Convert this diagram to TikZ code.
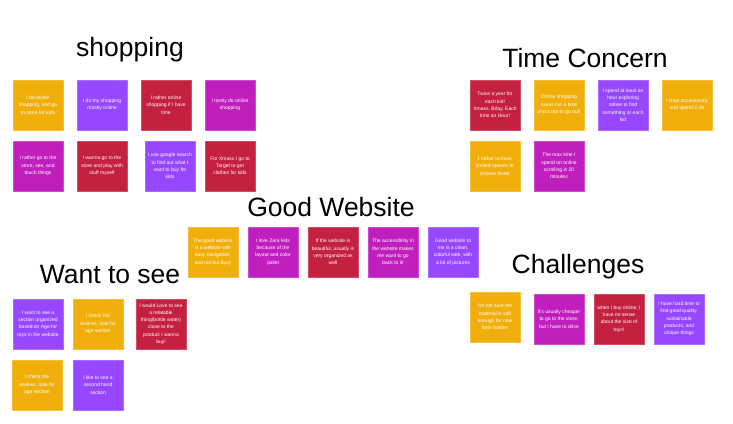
\documentclass[tikz,border=0pt]{standalone}
\usepackage{fontspec}
\setmainfont{Liberation Sans}
\definecolor{cyel}{HTML}{F1AF0C}
\definecolor{cvio}{HTML}{9747FF}
\definecolor{cred}{HTML}{C4203F}
\definecolor{cmag}{HTML}{C01FBE}
\tikzset{
  note/.style={minimum width=50pt, minimum height=50pt, inner sep=0pt, align=center,
    text=white, font=\fontsize{5pt}{7.3pt}\selectfont, draw=#1!80!white, line width=0.6pt, fill=#1},
  title/.style={font=\fontsize{26.5pt}{30pt}\selectfont, text=black, inner sep=0pt}
}
\begin{document}
\begin{tikzpicture}[x=1pt,y=-1pt]
\useasboundingbox[fill=white] (0,0) rectangle (733,423);
% titles
\node[title] (tshop) at (130,50) {shopping};
\node[title] (ttime) at (585,58) {Time Concern};
\node[title] (tgood) at (331,207) {Good Website};
\node[title] (twant) at (110,275) {Want to see};
\node[title] (tchal) at (578,267) {Challenges};
% shopping
\node[note=cyel] (s1) at (38,105) {I do  online\\shopping, and go\\to store for kids};
\node[note=cvio] (s2) at (102,105) {I do my  shopping\\mostly  online};
\node[note=cred] (s3) at (166,105) {I rather online\\shopping if I have\\time};
\node[note=cmag] (s4) at (230,105) {I rarely do online\\shopping};
\node[note=cmag] (s5) at (38,166) {I rather go to the\\store, see, and\\touch things};
\node[note=cred] (s6) at (102,166) {I wanna go to the\\store and play with\\stuff myself};
\node[note=cvio] (s7) at (170,166) {I use google search\\to find out what I\\want to buy for\\kids};
\node[note=cred] (s8) at (230,166) {For Xmass I go to\\Target to get\\clothes for kids};
% time concern
\node[note=cred] (c1) at (495,105) {Twice a year for\\each kid!\\Xmass, Bday, Each\\time an Hour!};
\node[note=cyel] (c2) at (559,105) {Online shopping\\saves me a time\\and a trip to go out!};
\node[note=cvio] (c3) at (623,105) {I spend at least an\\hour exploring\\online to find\\something or each\\kid};
\node[note=cyel] (c4) at (687,105) {I shop occasionally\\and spend 2-3h};
\node[note=cyel] (c5) at (495,166) {I rather to have\\limited options to\\choose faster};
\node[note=cmag] (c6) at (559,166) {The max time I\\spend on online\\scrolling is 20\\minutes};
% good website
\node[note=cyel] (g1) at (213,252) {The good website\\is a website with\\easy navigation,\\and not too busy};
\node[note=cmag] (g2) at (273,252) {I love Zara kids\\because of the\\layout and color\\pallet};
\node[note=cred] (g3) at (333,252) {If the website is\\beautiful, usually is\\very organized as\\well};
\node[note=cmag] (g4) at (393,252) {The accessibility in\\the website makes\\me want to go\\back to it!};
\node[note=cvio] (g5) at (453,252) {Good website to\\me is a clean,\\colorful web, with\\a lot of pictures};
% want to see
\node[note=cvio] (w1) at (38,324) {I want to see a\\section organized\\based on Age for\\toys in the website};
\node[note=cyel] (w2) at (98,324) {I check the\\reviews, look for\\age section};
\node[note=cred] (w3) at (161,324) {I would Love to see\\a relatable\\thing(bottle water)\\close to the\\product I wanna\\buy!};
\node[note=cyel] (w4) at (37,385) {I check the\\reviews, look for\\age section};
\node[note=cvio] (w5) at (98,385) {I like to see a\\second hand\\section};
% challenges
\node[note=cyel] (h1) at (495,317) {I'm not sure the\\material is soft\\enough for new\\born babies};
\node[note=cmag] (h2) at (559,319) {It's usually cheaper\\to go to the store,\\but I have to drive};
\node[note=cred] (h3) at (619,319) {when I buy online, I\\have no sense\\about the size of\\toys!};
\node[note=cvio] (h4) at (679,319) {I have hard time to\\find good quality,\\sustainable\\products, and\\unique things};
\end{tikzpicture}
\end{document}
